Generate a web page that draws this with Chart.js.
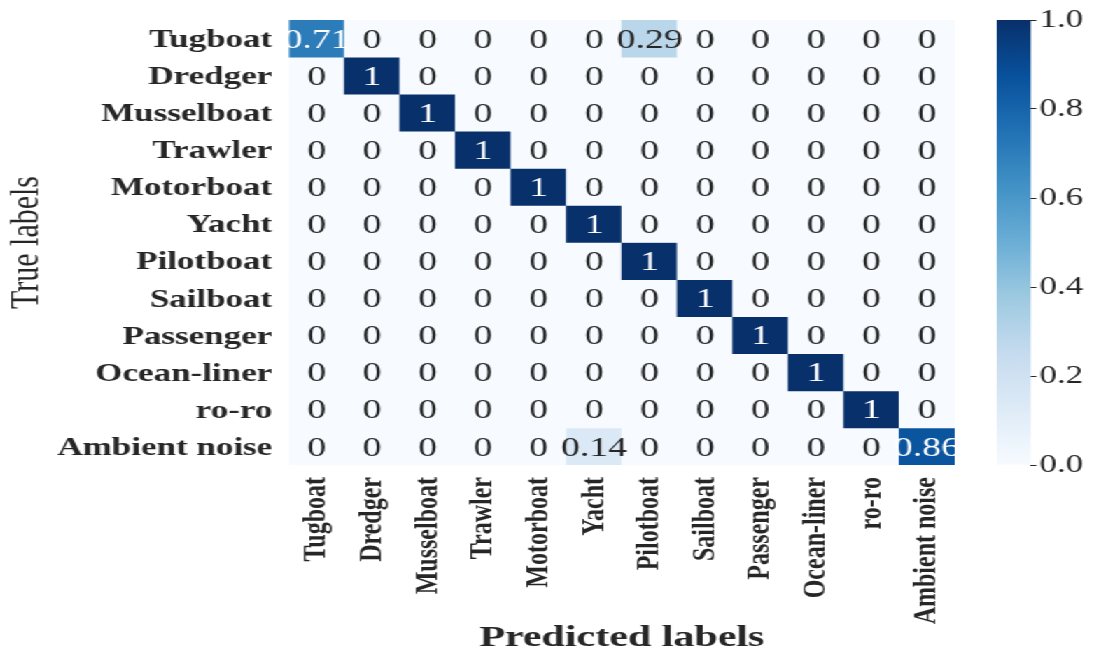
<!DOCTYPE html>
<html>
<head>
<meta charset="utf-8">
<script src="https://cdn.jsdelivr.net/npm/chart.js@4.4.0/dist/chart.umd.min.js"></script>
<style>
  html, body { margin: 0; padding: 0; background: #fff; overflow: hidden; }
  /* the reference is stretched sideways, so the whole figure is drawn narrow and widened */
  #wrap { position: absolute; left: 0; top: 0; width: 784px; height: 653px; transform: scaleX(1.4); transform-origin: 0 0; }
  #matrix { position: absolute; left: 0; top: 0; }
  #cbar { position: absolute; left: 700px; top: 0; }
</style>
</head>
<body>
<div id="wrap">
  <canvas id="matrix" width="700" height="653"></canvas>
  <canvas id="cbar" width="84" height="653"></canvas>
</div>
<script>
// class names (rows = true, columns = predicted)
var classes = ['Tugboat', 'Dredger', 'Musselboat', 'Trawler', 'Motorboat', 'Yacht',
               'Pilotboat', 'Sailboat', 'Passenger', 'Ocean-liner', 'ro-ro', 'Ambient noise'];

// normalised confusion matrix, one row per true label
var cm = [
    [0.71, 0, 0, 0, 0, 0, 0.29, 0, 0, 0, 0, 0],
    [0, 1, 0, 0, 0, 0, 0, 0, 0, 0, 0, 0],
    [0, 0, 1, 0, 0, 0, 0, 0, 0, 0, 0, 0],
    [0, 0, 0, 1, 0, 0, 0, 0, 0, 0, 0, 0],
    [0, 0, 0, 0, 1, 0, 0, 0, 0, 0, 0, 0],
    [0, 0, 0, 0, 0, 1, 0, 0, 0, 0, 0, 0],
    [0, 0, 0, 0, 0, 0, 1, 0, 0, 0, 0, 0],
    [0, 0, 0, 0, 0, 0, 0, 1, 0, 0, 0, 0],
    [0, 0, 0, 0, 0, 0, 0, 0, 1, 0, 0, 0],
    [0, 0, 0, 0, 0, 0, 0, 0, 0, 1, 0, 0],
    [0, 0, 0, 0, 0, 0, 0, 0, 0, 0, 1, 0],
    [0, 0, 0, 0, 0, 0.14, 0, 0, 0, 0, 0, 0.86]
];

var cbarTicks = [0, 0.2, 0.4, 0.6, 0.8, 1.0];

var SERIF = '"Liberation Serif", "Times New Roman", serif';
var INK = '#262626';

// matplotlib "Blues"
var blues = [[247,251,255],[222,235,247],[198,219,239],[158,202,225],[107,174,214],
             [66,146,198],[33,113,181],[8,81,156],[8,48,107]];

function bluesColor(v) {
    var t = Math.max(0, Math.min(1, v)) * (blues.length - 1);
    var i = Math.min(Math.floor(t), blues.length - 2);
    var f = t - i;
    var a = blues[i], b = blues[i + 1];
    return 'rgb(' + [0, 1, 2].map(function(k) { return Math.round(a[k] + (b[k] - a[k]) * f); }).join(',') + ')';
}

function fmt(v) {
    if (v === 0) return '0';
    if (v === 1) return '1';
    return String(v);
}

var datasets = cm.map(function(row, r) {
    return {
        label: classes[r],
        data: row.map(function() { return [r, r + 1]; }),
        backgroundColor: row.map(bluesColor),
        borderWidth: 0,
        grouped: false,
        barPercentage: 1,
        categoryPercentage: 1
    };
});

// write the value in the middle of every cell
var cellText = {
    id: 'cellText',
    afterDatasetsDraw: function(chart) {
        var ctx = chart.ctx;
        ctx.save();
        ctx.font = '27px ' + SERIF;
        ctx.textAlign = 'center';
        ctx.textBaseline = 'middle';
        chart.data.datasets.forEach(function(ds, r) {
            var meta = chart.getDatasetMeta(r);
            meta.data.forEach(function(el, c) {
                var v = cm[r][c];
                ctx.fillStyle = v > 0.5 ? '#ffffff' : INK;
                ctx.fillText(fmt(v), el.x, (el.y + el.base) / 2 + 2);
            });
        });
        ctx.restore();
    }
};

new Chart(document.getElementById('matrix').getContext('2d'), {
    type: 'bar',
    data: { labels: classes, datasets: datasets },
    options: {
        responsive: false,
        animation: false,
        devicePixelRatio: 1,
        layout: { padding: { top: 20, right: 18, left: 0, bottom: 0 } },
        plugins: { legend: { display: false }, tooltip: { enabled: false } },
        scales: {
            x: {
                grid: { display: false },
                border: { display: false },
                ticks: {
                    color: INK,
                    font: { family: SERIF, size: 24, weight: 'bold' },
                    minRotation: 90, maxRotation: 90,
                    padding: 4,
                    autoSkip: false
                },
                title: {
                    display: true, text: 'Predicted labels', color: INK,
                    font: { family: SERIF, size: 30, weight: 'bold', lineHeight: 1.0 },
                    padding: { top: 0, bottom: 0 }
                },
                afterFit: function(scale) { scale.height = 188; }
            },
            y: {
                reverse: true,
                min: 0, max: 12,
                grid: { display: false },
                border: { display: false },
                afterBuildTicks: function(scale) {
                    scale.ticks = classes.map(function(_, i) { return { value: i + 0.5 }; });
                },
                ticks: {
                    color: INK,
                    font: { family: SERIF, size: 25, weight: 'bold' },
                    padding: 4,
                    labelOffset: 2,
                    autoSkip: false,
                    callback: function(v) { return classes[Math.floor(v)]; }
                },
                title: {
                    display: true, text: 'True labels', color: INK,
                    font: { family: SERIF, size: 30, lineHeight: 1.0 },
                    padding: { top: 4, bottom: 0 }
                },
                afterFit: function(scale) { scale.width = 206.4; }
            }
        }
    },
    plugins: [cellText]
});

// colour bar
new Chart(document.getElementById('cbar').getContext('2d'), {
    type: 'bar',
    data: {
        labels: [''],
        datasets: [{
            data: [[0, 1]],
            borderWidth: 0,
            barPercentage: 1,
            categoryPercentage: 1,
            backgroundColor: function(c) {
                var ca = c.chart.chartArea;
                if (!ca) return bluesColor(0.5);
                var g = c.chart.ctx.createLinearGradient(0, ca.bottom, 0, ca.top);
                blues.forEach(function(col, i) {
                    g.addColorStop(i / (blues.length - 1), 'rgb(' + col.join(',') + ')');
                });
                return g;
            }
        }]
    },
    options: {
        responsive: false,
        animation: false,
        devicePixelRatio: 1,
        layout: { padding: { top: 20, left: 12, right: 0, bottom: 188 } },
        plugins: { legend: { display: false }, tooltip: { enabled: false } },
        scales: {
            x: { display: false },
            y: {
                position: 'right',
                min: 0, max: 1,
                afterBuildTicks: function(scale) {
                    scale.ticks = cbarTicks.map(function(v) { return { value: v }; });
                },
                grid: { drawOnChartArea: false, drawTicks: true, tickLength: 4, color: INK, lineWidth: 1 },
                border: { display: false },
                ticks: {
                    color: INK,
                    font: { family: SERIF, size: 25 },
                    padding: 2,
                    callback: function(v) { return v.toFixed(1); }
                },
                afterFit: function(scale) { scale.width = 47.6; }
            }
        }
    }
});
</script>
</body>
</html>
